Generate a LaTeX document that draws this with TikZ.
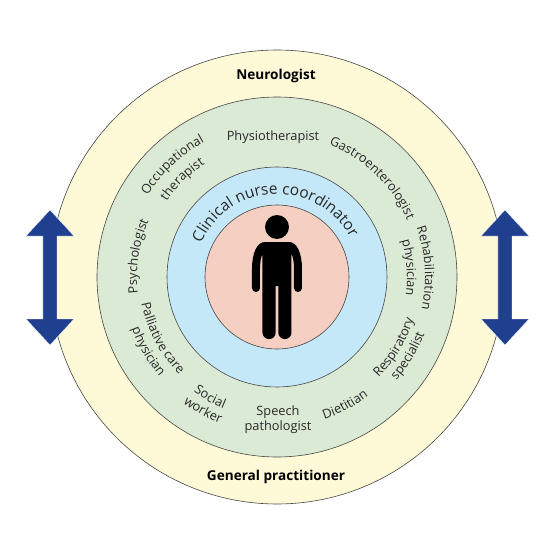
\documentclass[tikz,border=0pt]{standalone}
\usepackage{fontspec}
\setmainfont{Open Sans}
\usetikzlibrary{decorations.text}
\definecolor{gpyellow}{RGB}{254,250,216}
\definecolor{teamgreen}{RGB}{219,234,213}
\definecolor{nurseblue}{RGB}{197,232,249}
\definecolor{patientpink}{RGB}{244,207,194}
\definecolor{arrownavy}{RGB}{31,63,143}
\definecolor{ringline}{RGB}{70,70,70}
\definecolor{labelgray}{RGB}{40,40,40}
\tikzset{
    ring/.style={draw=ringline, line width=0.6pt},
    ringlabel/.style={font=\fontsize{12.8}{15}\selectfont, text=labelgray, align=center},
    outerlabel/.style={font=\fontsize{13.6}{15}\selectfont\bfseries, text=black}
}
\newcommand{\labelsize}{\fontsize{12.8}{15}\selectfont\color{labelgray}}
% text along a circle, top of the letters outward
\newcommand{\cwlabel}[3]{\path[decorate, decoration={text along path, text align=center, text={|\labelsize|#3}}]
    (#2+60:#1) arc[start angle=#2+60, end angle=#2-60, radius=#1];}
% text along a circle, top of the letters inward
\newcommand{\ccwlabel}[3]{\path[decorate, decoration={text along path, text align=center, text={|\labelsize|#3}}]
    (#2-60:#1) arc[start angle=#2-60, end angle=#2+60, radius=#1];}

\begin{document}
\begin{tikzpicture}[x=1pt, y=1pt]
    \useasboundingbox (-277,-278) rectangle (278,277);

    % Rings
    \filldraw[ring, fill=gpyellow] (0,0) circle (227);
    \filldraw[ring, fill=teamgreen] (0,0) circle (180);
    \filldraw[ring, fill=nurseblue] (0,0) circle (110);
    \filldraw[ring, fill=patientpink] (0,0) circle (72);

    % Double arrows
    \foreach \xpos in {-227,228} {
        \fill[arrownavy, draw=white, line width=0.3pt] (\xpos,67) -- (\xpos+24,41) -- (\xpos+7,41) -- (\xpos+7,-42)
            -- (\xpos+24,-42) -- (\xpos,-68) -- (\xpos-24,-42) -- (\xpos-7,-42) -- (\xpos-7,41) -- (\xpos-24,41) -- cycle;
    }

    % Person
    \fill[black] (0,50) circle (12);
    \foreach \side in {1,-1} {
        \fill[black, xscale=\side] (0.2,35) -- (-12,35) .. controls (-20,35) and (-25,24) .. (-25,8) -- (-25,-11)
            arc[start angle=180, end angle=360, radius=4] -- (-17,8) .. controls (-17,15) and (-16,20) .. (-14.5,23)
            -- (-14.5,-55.5) arc[start angle=180, end angle=360, radius=6.6] -- (-1.3,-9) -- (0.2,-9) -- cycle;
    }

    % Outer and straight labels
    \node[outerlabel] (neurologist) at (-1,201) {Neurologist};
    \node[outerlabel] (generalpractitioner) at (-1,-200) {General practitioner};
    \node[ringlabel] (physiotherapist) at (-4,140) {Physiotherapist};
    \node[ringlabel] (speechpathologist) at (1,-143) {Speech\\pathologist};

    % Curved labels
    \path[decorate, decoration={text along path, text align=center,
        text={|\fontsize{15.5}{15}\selectfont\color{labelgray}|Clinical nurse coordinator}}]
        (180:83) arc[start angle=180, end angle=4, radius=83];
    \cwlabel{153}{133}{Occupational}
    \cwlabel{134}{134}{therapist}
    \cwlabel{140}{171.5}{Psychologist}
    \cwlabel{142}{46}{Gastroenterologist}
    \cwlabel{148}{3.5}{Rehabilitation}
    \cwlabel{130}{4}{physician}
    \ccwlabel{143}{-31}{Respiratory}
    \ccwlabel{158}{-31}{specialist}
    \ccwlabel{150}{-62}{Dietitian}
    \ccwlabel{142}{-119}{Social}
    \ccwlabel{157}{-119}{worker}
    \ccwlabel{138}{-152}{Palliative care}
    \ccwlabel{154}{-150}{physician}
\end{tikzpicture}
\end{document}
